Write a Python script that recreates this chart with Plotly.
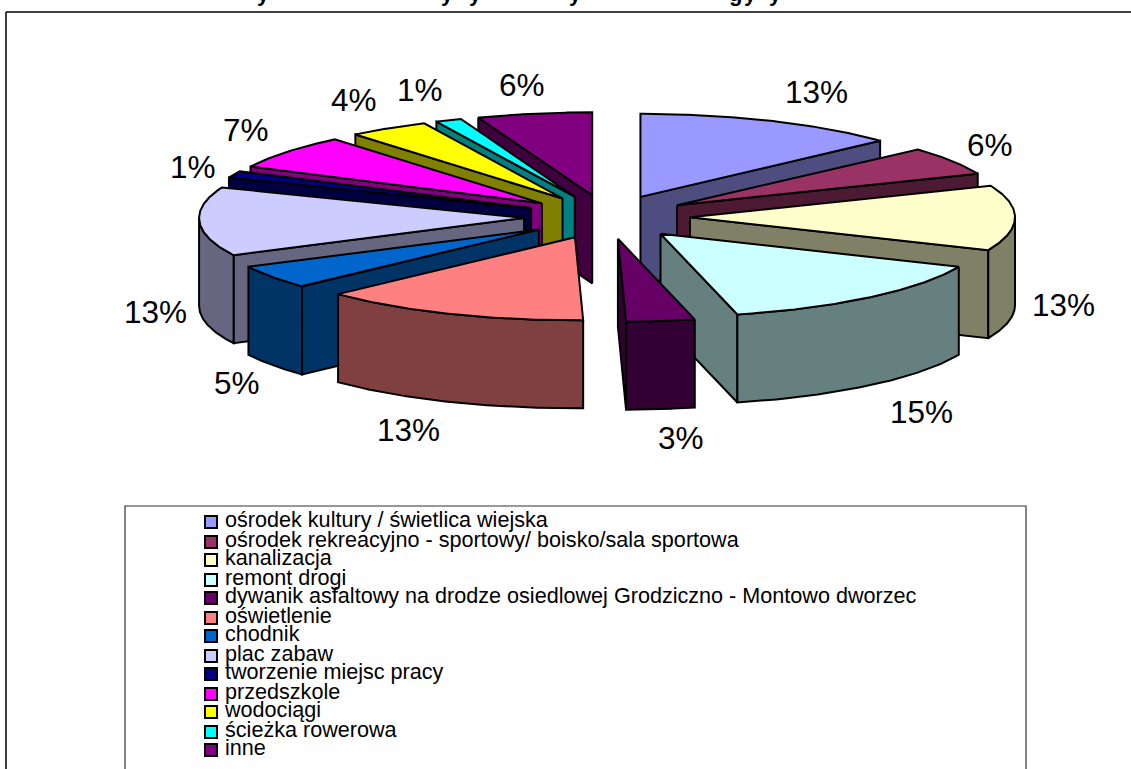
import numpy as np
import plotly.graph_objects as go

# --- Data ---
categories = [
    "ośrodek kultury / świetlica wiejska",
    "ośrodek rekreacyjno - sportowy/ boisko/sala sportowa",
    "kanalizacja",
    "remont drogi",
    "dywanik asfaltowy na drodze osiedlowej Grodziczno - Montowo dworzec",
    "oświetlenie",
    "chodnik",
    "plac zabaw",
    "tworzenie miejsc pracy",
    "przedszkole",
    "wodociągi",
    "ścieżka rowerowa",
    "inne",
]
shares = [13.2, 5.6, 12.7, 14.7, 3.4, 13.4, 4.6, 13.4, 1.3, 6.7, 4.0, 1.3, 5.7]
share_labels = ["13%", "6%", "13%", "15%", "3%", "13%", "5%", "13%", "1%", "7%", "4%", "1%", "6%"]

# --- Styles ---
top_colors = ["#9999FF", "#993366", "#FFFFCC", "#CCFFFF", "#660066", "#FF8080", "#0066CC",
              "#CCCCFF", "#000080", "#FF00FF", "#FFFF00", "#00FFFF", "#800080"]
side_colors = ["#4D4D80", "#4D1A33", "#808066", "#668080", "#330033", "#804040", "#003366",
               "#666680", "#000040", "#800080", "#808000", "#008080", "#400040"]
label_xy = [(816, 92), (990, 145), (1063, 305), (921, 412), (681, 438), (408, 430), (237, 383),
            (155, 312), (193, 167), (246, 130), (354, 100), (420, 90), (522, 85)]
title_bits = [("y", 263), ("y", 447), ("y", 475), ("y", 575), ("g", 735), ("y", 750), ("y", 775)]

# pie geometry in page pixels
CX, CY = 607, 217
RX, RY = 325, 83
PULL_X, PULL_Y = 83, 22
DEPTH = 88
FONT = "Liberation Sans"

edges = np.cumsum([0] + shares) / sum(shares) * 2 * np.pi
# far slices first, so the nearer ones paint over them
draw_order = list(range(12, 4, -1)) + [0, 1, 2, 3, 4]

fig = go.Figure()


def add_poly(xs, ys, color):
    fig.add_trace(go.Scatter(
        x=xs, y=ys, mode="lines", fill="toself", fillcolor=color,
        line=dict(color="black", width=2), hoverinfo="skip", showlegend=False,
    ))


for i in draw_order:
    a0, a1 = edges[i], edges[i + 1]
    mid = (a0 + a1) / 2
    ax = CX + PULL_X * np.sin(mid)
    ay = CY - PULL_Y * np.cos(mid)

    # radial walls facing the viewer
    for ang, show in ((a0, np.sin(a0) < -1e-6), (a1, np.sin(a1) > 1e-6)):
        if show:
            ex = ax + RX * np.sin(ang)
            ey = ay - RY * np.cos(ang)
            add_poly([ax, ex, ex, ax, ax], [ay, ey, ey + DEPTH, ay + DEPTH, ay], side_colors[i])

    # outer wall, front half of the rim only
    w0, w1 = max(a0, np.pi / 2), min(a1, 3 * np.pi / 2)
    if w1 > w0:
        t = np.linspace(w0, w1, 60)
        rim_x = ax + RX * np.sin(t)
        rim_y = ay - RY * np.cos(t)
        add_poly(np.r_[rim_x, rim_x[::-1], rim_x[0]], np.r_[rim_y, rim_y[::-1] + DEPTH, rim_y[0]],
                 side_colors[i])

    # top face
    t = np.linspace(a0, a1, 80)
    add_poly(np.r_[ax, ax + RX * np.sin(t), ax], np.r_[ay, ay - RY * np.cos(t), ay], top_colors[i])

# --- Legend ---
rows = [522 + 19 * k + k % 2 for k in range(len(categories))]
fig.add_trace(go.Scatter(
    x=[211] * len(categories), y=rows, mode="markers",
    marker=dict(symbol="square", size=12, color=top_colors, line=dict(color="black", width=2)),
    hoverinfo="skip", showlegend=False,
))
fig.add_trace(go.Scatter(
    x=[225] * len(categories), y=rows, mode="text", text=categories, textposition="middle right",
    textfont=dict(family=FONT, size=21.6, color="black"), hoverinfo="skip", showlegend=False,
))

annotations = [
    dict(x=x, y=y, text=s, showarrow=False, font=dict(family=FONT, size=31.5, color="black"))
    for s, (x, y) in zip(share_labels, label_xy)
]
# title sits above the page edge, only its descenders show
annotations += [
    dict(x=x, xref="x", y=1, yref="paper", yanchor="bottom", yshift=-8, text=f"<b>{s}</b>",
         showarrow=False, font=dict(family=FONT, size=22, color="black"))
    for s, x in title_bits
]

fig.update_layout(
    width=1131, height=769, margin=dict(l=0, r=0, t=0, b=0),
    paper_bgcolor="white", plot_bgcolor="white", showlegend=False,
    xaxis=dict(range=[0, 1131], visible=False, fixedrange=True),
    yaxis=dict(range=[769, 0], visible=False, fixedrange=True),
    annotations=annotations,
    shapes=[
        dict(type="line", x0=6, x1=6, y0=12, y1=769, line=dict(color="black", width=1.5)),
        dict(type="line", x0=6, x1=1131, y0=12, y1=12, line=dict(color="black", width=1.5)),
        dict(type="rect", x0=125, x1=1026, y0=506, y1=790, line=dict(color="#333333", width=1.2)),
    ],
)

fig.write_html("out.html", config=dict(displayModeBar=False),
               post_script="document.body.style.margin='0';document.body.style.overflow='hidden';")
